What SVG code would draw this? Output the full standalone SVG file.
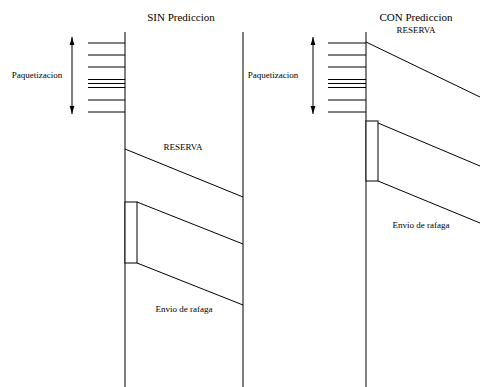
<svg xmlns="http://www.w3.org/2000/svg" width="480" height="387" viewBox="0 0 480 387">
  <defs>
    <marker id="ah" viewBox="0 0 8 6" refX="8" refY="3" markerWidth="8" markerHeight="6" markerUnits="userSpaceOnUse" orient="auto-start-reverse">
      <path d="M0,0.6 L8,3 L0,5.4 Z" fill="#000"/>
    </marker>
    <style>
      .ln { stroke: #000; stroke-width: 1; fill: none; }
      .tk { stroke: #000; stroke-width: 1; }
      .box { stroke: #000; stroke-width: 1; fill: #fff; }
      .arr { stroke: #000; stroke-width: 1; marker-start: url(#ah); marker-end: url(#ah); }
      text { font-family: "Liberation Serif", "Times New Roman", serif; fill: #000; text-anchor: middle; }
      .ttl { font-size: 11px; }
      .lbl { font-size: 9px; }
    </style>
  </defs>
  <rect width="480" height="387" fill="#fff"/>

  <!-- left scenario: without prediction -->
  <g id="sin-title"><text class="ttl" x="181" y="21">SIN Prediccion</text></g>
  <g id="sin-emisor"><line class="ln" x1="125" y1="32" x2="125" y2="387"/></g>
  <g id="sin-receptor"><line class="ln" x1="243" y1="32" x2="243" y2="387"/></g>
  <g id="sin-paquetes">
    <line class="tk" x1="88" y1="43" x2="125" y2="43"/>
    <line class="tk" x1="88" y1="55" x2="125" y2="55"/>
    <line class="tk" x1="88" y1="67" x2="125" y2="67"/>
    <line class="tk" x1="88" y1="79.5" x2="125" y2="79.5"/>
    <line class="tk" x1="88" y1="83.5" x2="125" y2="83.5"/>
    <line class="tk" x1="88" y1="87.5" x2="125" y2="87.5"/>
    <line class="tk" x1="88" y1="100" x2="125" y2="100"/>
    <line class="tk" x1="88" y1="112" x2="125" y2="112"/>
    <line class="arr" x1="72" y1="37" x2="72" y2="114"/>
    <text class="lbl" x="37" y="78">Paquetizacion</text>
  </g>
  <g id="sin-rafaga"><rect class="box" x="125" y="202" width="12" height="61"/></g>

  <!-- right scenario: with prediction -->
  <g id="con-title"><text class="ttl" x="416" y="21">CON Prediccion</text></g>
  <g id="con-emisor"><line class="ln" x1="366" y1="32" x2="366" y2="387"/></g>
  <g id="con-paquetes">
    <line class="tk" x1="328" y1="43" x2="366" y2="43"/>
    <line class="tk" x1="328" y1="55" x2="366" y2="55"/>
    <line class="tk" x1="328" y1="67" x2="366" y2="67"/>
    <line class="tk" x1="328" y1="79.5" x2="366" y2="79.5"/>
    <line class="tk" x1="328" y1="83.5" x2="366" y2="83.5"/>
    <line class="tk" x1="328" y1="87.5" x2="366" y2="87.5"/>
    <line class="tk" x1="328" y1="100" x2="366" y2="100"/>
    <line class="tk" x1="328" y1="112" x2="366" y2="112"/>
    <line class="arr" x1="313" y1="37" x2="313" y2="114"/>
    <text class="lbl" x="273" y="78">Paquetizacion</text>
  </g>
  <g id="con-rafaga"><rect class="box" x="366" y="121" width="12" height="60"/></g>

  <!-- messages between the two ends -->
  <g id="connectors">
    <line class="ln" x1="125" y1="149" x2="243" y2="197"/>
    <line class="ln" x1="137" y1="202" x2="243" y2="244"/>
    <line class="ln" x1="137" y1="263" x2="243" y2="305"/>
    <line class="ln" x1="366" y1="42" x2="480" y2="97"/>
    <line class="ln" x1="378" y1="123" x2="480" y2="166"/>
    <line class="ln" x1="378" y1="181" x2="480" y2="223"/>
  </g>
  <g id="labels">
    <text class="lbl" x="183" y="150">RESERVA</text>
    <text class="lbl" x="184" y="312">Envio de rafaga</text>
    <text class="lbl" x="416" y="33">RESERVA</text>
    <text class="lbl" x="421" y="228">Envio de rafaga</text>
  </g>
</svg>
